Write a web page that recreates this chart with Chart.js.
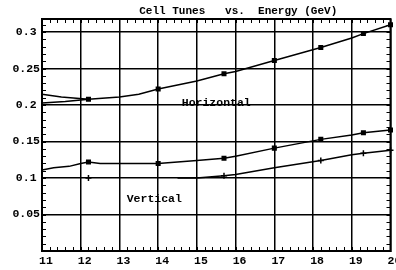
<!DOCTYPE html>
<html lang="en">
<head>
<meta charset="UTF-8">
<title>Cell Tunes vs. Energy</title>
<script src="https://cdn.jsdelivr.net/npm/chart.js"></script>
<style>
  html, body { margin: 0; padding: 0; background: #fff; }
  #wrap { width: 396px; height: 270px; }
</style>
</head>
<body>
<div id="wrap"><canvas id="tuneChart" width="396" height="270"></canvas></div>
<script>
// Energy in GeV, tunes
const hEnergy  = [11, 11.5, 12.2, 13, 13.5, 14, 15, 15.7, 16, 17, 18.2, 19, 19.3, 20];
const hTune    = [0.215, 0.211, 0.208, 0.211, 0.215, 0.222, 0.233, 0.243, 0.246, 0.261, 0.279, 0.292, 0.298, 0.31];
const hEnergyB = [11, 11.6, 12.2];
const hTuneB   = [0.203, 0.205, 0.208];

const v1Energy = [11, 11.3, 11.7, 12, 12.2, 12.5, 13, 14, 14.5, 15, 15.7, 16, 17, 18.2, 19, 19.3, 20];
const v1Tune   = [0.111, 0.114, 0.116, 0.12, 0.122, 0.12, 0.12, 0.12, 0.122, 0.124, 0.127, 0.13, 0.141, 0.153, 0.159, 0.162, 0.166];
const v2Energy = [14.5, 15, 15.7, 16, 17, 18.2, 19, 19.3, 20];
const v2Tune   = [0.1, 0.1, 0.103, 0.105, 0.114, 0.124, 0.132, 0.134, 0.138];

// measured points (markers)
const markEnergy = [12.2, 14, 15.7, 17, 18.2, 19.3, 20];
const hMark      = [0.208, 0.222, 0.243, 0.261, 0.279, 0.298, 0.31];
const v1Mark     = [0.122, 0.12, 0.127, 0.141, 0.153, 0.162, 0.166];
const v2MarkE    = [12.2, 15.7, 18.2, 19.3, 20];
const v2Mark     = [0.1, 0.103, 0.124, 0.134, 0.138];

const yTicks = [0, 0.05, 0.1, 0.15, 0.2, 0.25, 0.3];
const yTickLabels = ['', '0.05', '0.1', '0.15', '0.2', '0.25', '0.3'];
const xMinorStep = 0.2;
const yMinorStep = 0.01;

const titleText = 'Cell Tunes   vs.  Energy (GeV)';
const notes = [
  { text: 'Horizontal', x: 15.5, y: 0.203 },
  { text: 'Vertical',   x: 13.9, y: 0.071 }
];

const FONT = '"Liberation Mono", "DejaVu Sans Mono", monospace';

function pts(xs, ys) {
  return xs.map((x, i) => ({ x: x, y: ys[i] }));
}

function curve(xs, ys) {
  return {
    data: pts(xs, ys), showLine: true, borderColor: '#000', borderWidth: 1.5,
    pointRadius: 0, fill: false, tension: 0
  };
}

function markers(xs, ys, style, r) {
  return {
    data: pts(xs, ys), showLine: false, pointStyle: style, pointRadius: r,
    backgroundColor: '#000', borderColor: '#000', borderWidth: 1.5, clip: 5
  };
}

// frame, inward minor ticks, title and curve labels
const frameAndLabels = {
  id: 'frameAndLabels',
  afterDraw(chart) {
    const ctx = chart.ctx, a = chart.chartArea;
    const xs = chart.scales.x, ys = chart.scales.y;
    ctx.save();
    ctx.strokeStyle = '#000';
    ctx.lineWidth = 1;
    ctx.beginPath();
    for (let v = xs.min; v <= xs.max + 1e-9; v += xMinorStep) {
      const px = Math.round(xs.getPixelForValue(v)) + 0.5;
      ctx.moveTo(px, a.top); ctx.lineTo(px, a.top + 4);
      ctx.moveTo(px, a.bottom); ctx.lineTo(px, a.bottom - 4);
    }
    for (let v = ys.min; v <= ys.max + 1e-9; v += yMinorStep) {
      const py = Math.round(ys.getPixelForValue(v)) + 0.5;
      ctx.moveTo(a.left, py); ctx.lineTo(a.left + 4, py);
      ctx.moveTo(a.right, py); ctx.lineTo(a.right - 4, py);
    }
    ctx.stroke();

    ctx.lineWidth = 2;
    ctx.strokeRect(a.left, a.top, a.right - a.left, a.bottom - a.top);

    ctx.fillStyle = '#000';
    ctx.textAlign = 'center';
    ctx.textBaseline = 'middle';
    ctx.font = 'bold 11px ' + FONT;
    ctx.fillText(titleText, (a.left + a.right) / 2 + 22, 11);
    ctx.font = 'bold 11.5px ' + FONT;
    notes.forEach(n => {
      ctx.fillText(n.text, xs.getPixelForValue(n.x), ys.getPixelForValue(n.y));
    });
    ctx.restore();
  }
};

new Chart(document.getElementById('tuneChart'), {
  type: 'scatter',
  data: {
    datasets: [
      curve(hEnergy, hTune),
      curve(hEnergyB, hTuneB),
      curve(v1Energy, v1Tune),
      curve(v2Energy, v2Tune),
      markers(markEnergy, hMark, 'rect', 2.5),
      markers(markEnergy, v1Mark, 'rect', 2.5),
      markers(v2MarkE, v2Mark, 'cross', 3)
    ]
  },
  options: {
    responsive: false,
    devicePixelRatio: 1,
    animation: false,
    layout: { padding: { top: 19, right: 5, bottom: 0, left: 0 } },
    plugins: { legend: { display: false }, tooltip: { enabled: false }, title: { display: false } },
    scales: {
      x: {
        type: 'linear', min: 11, max: 20,
        ticks: {
          stepSize: 1, labelOffset: 4, padding: 3, color: '#000',
          font: { family: FONT, size: 11.5, weight: 'bold' }
        },
        grid: { color: '#000', lineWidth: 1.5, drawTicks: false },
        border: { display: true, color: '#000', width: 2 },
        afterFit(scale) { scale.height = 19; scale.paddingLeft = 0; scale.paddingRight = 0; }
      },
      y: {
        type: 'linear', min: 0, max: 0.318,
        afterBuildTicks(scale) { scale.ticks = yTicks.map(v => ({ value: v })); },
        ticks: {
          crossAlign: 'center', padding: 2, color: '#000',
          font: { family: FONT, size: 11.5, weight: 'bold' },
          callback: (v, i) => yTickLabels[i]
        },
        grid: { color: '#000', lineWidth: 1.5, drawTicks: false },
        border: { display: true, color: '#000', width: 2 },
        afterFit(scale) { scale.width = 42; scale.paddingTop = 0; scale.paddingBottom = 0; }
      }
    }
  },
  plugins: [frameAndLabels]
});
</script>
</body>
</html>
